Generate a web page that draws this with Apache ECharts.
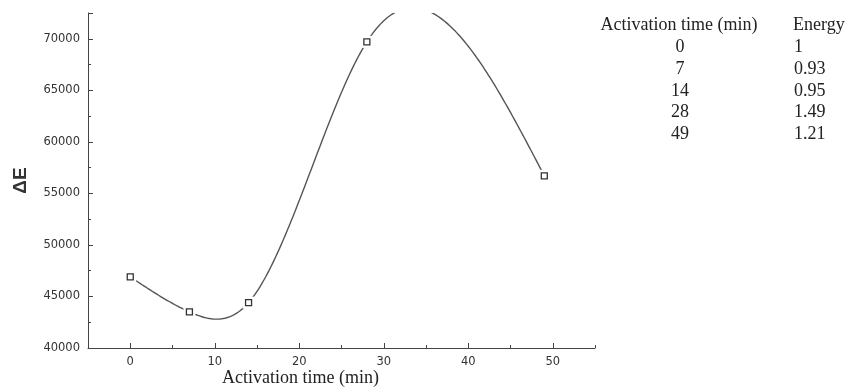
<!DOCTYPE html>
<html>
<head>
<meta charset="utf-8">
<script src="https://cdn.jsdelivr.net/npm/echarts@6/dist/echarts.min.js"></script>
<style>html,body{margin:0;padding:0;background:#fff;}#c{width:850px;height:389px;}</style>
</head>
<body>
<div id="c"></div>
<script>
// Data
var activationTime = [0, 7, 14, 28, 49];
var deltaE = [46900, 43500, 44400, 69700, 56700];
var tableHeader = ['Activation time (min)', 'Energy'];
var tableTime = ['0', '7', '14', '28', '49'];
var tableEnergy = ['1', '0.93', '0.95', '1.49', '1.21'];
var xMajorTicks = [0, 10, 20, 30, 40, 50];
var xMinorTicks = [5, 15, 25, 35, 45, 55];

// natural cubic spline through the measured points
function naturalSpline(xs, ys) {
  var n = xs.length, h = [], i;
  for (i = 0; i < n - 1; i++) h.push(xs[i + 1] - xs[i]);
  var a = [], b = [], c = [], d = [];
  for (i = 0; i < n; i++) {
    if (i === 0 || i === n - 1) { a.push(0); b.push(1); c.push(0); d.push(0); }
    else {
      a.push(h[i - 1]); b.push(2 * (h[i - 1] + h[i])); c.push(h[i]);
      d.push(6 * ((ys[i + 1] - ys[i]) / h[i] - (ys[i] - ys[i - 1]) / h[i - 1]));
    }
  }
  for (i = 1; i < n; i++) {
    var m = a[i] / b[i - 1];
    b[i] -= m * c[i - 1];
    d[i] -= m * d[i - 1];
  }
  var M = new Array(n);
  M[n - 1] = d[n - 1] / b[n - 1];
  for (i = n - 2; i >= 0; i--) M[i] = (d[i] - c[i] * M[i + 1]) / b[i];
  return function (x) {
    var k = 0;
    while (k < n - 2 && x > xs[k + 1]) k++;
    var hk = h[k], A = xs[k + 1] - x, B = x - xs[k];
    return M[k] * A * A * A / (6 * hk) + M[k + 1] * B * B * B / (6 * hk)
      + (ys[k] / hk - M[k] * hk / 6) * A + (ys[k + 1] / hk - M[k + 1] * hk / 6) * B;
  };
}
var sp = naturalSpline(activationTime, deltaE);

var chart = echarts.init(document.getElementById('c'), null, {renderer: 'canvas'});
var axisColor = '#444';
var labelStyle = {color: '#333', fontSize: 11.5, fontFamily: 'DejaVu Sans, Verdana, sans-serif'};
var serif = 'Liberation Serif, Times New Roman, serif';

var graphics = [
  {type: 'text', left: 222, top: 369, style: {text: 'Activation time (min)', font: '18px ' + serif, fill: '#222'}},
  {type: 'text', x: 679, y: 25, style: {text: tableHeader[0], font: '18px ' + serif, fill: '#222', textAlign: 'center', textVerticalAlign: 'middle'}},
  {type: 'text', x: 793, y: 25, style: {text: tableHeader[1], font: '18px ' + serif, fill: '#222', textAlign: 'left', textVerticalAlign: 'middle'}}
];
for (var r = 0; r < tableTime.length; r++) {
  var yy = 47.5 + r * 21.7;
  graphics.push({type: 'text', x: 680, y: yy, style: {text: tableTime[r], font: '18px ' + serif, fill: '#222', textAlign: 'center', textVerticalAlign: 'middle'}});
  graphics.push({type: 'text', x: 794, y: yy, style: {text: tableEnergy[r], font: '18px ' + serif, fill: '#222', textAlign: 'left', textVerticalAlign: 'middle'}});
}

chart.setOption({
  animation: false,
  backgroundColor: '#fff',
  grid: {left: 88, top: 13, width: 507, height: 335, containLabel: false},
  xAxis: [{
    type: 'value', min: -5, max: 55, interval: 5,
    axisLine: {onZero: false, lineStyle: {color: axisColor, width: 1}},
    axisTick: {inside: true, length: 5, lineStyle: {color: axisColor}, customValues: xMajorTicks},
    axisLabel: Object.assign({margin: 8, customValues: xMajorTicks}, labelStyle),
    splitLine: {show: false}
  }, {
    type: 'value', min: -5, max: 55, interval: 5, position: 'bottom',
    axisLine: {show: false, onZero: false},
    axisTick: {inside: true, length: 3, lineStyle: {color: axisColor}, customValues: xMinorTicks},
    axisLabel: {show: false},
    splitLine: {show: false}
  }],
  yAxis: {
    type: 'value', min: 40000, max: 72500, interval: 5000,
    name: 'ΔE', nameLocation: 'middle', nameGap: 58, nameRotate: 90,
    nameTextStyle: {fontSize: 19, fontWeight: 'bold', color: '#333', fontFamily: 'Liberation Sans, Arial, sans-serif'},
    axisLine: {show: true, onZero: false, lineStyle: {color: axisColor, width: 1}},
    axisTick: {inside: true, length: 5, lineStyle: {color: axisColor}},
    minorTick: {show: true, splitNumber: 2, length: 3, lineStyle: {color: axisColor}},
    axisLabel: Object.assign({margin: 8, showMaxLabel: false, formatter: function (v) { return String(v); }}, labelStyle),
    splitLine: {show: false}
  },
  graphic: graphics,
  series: [{
    type: 'custom',
    clip: true,
    data: [0],
    renderItem: function (params, api) {
      var pts = [];
      var x0 = activationTime[0], x1 = activationTime[activationTime.length - 1];
      for (var x = x0; x <= x1 + 1e-9; x += 0.2) pts.push(api.coord([x, sp(x)]));
      return {type: 'polyline', shape: {points: pts}, style: {stroke: '#555', lineWidth: 1.4, fill: null}};
    },
    z: 1
  }, {
    type: 'scatter',
    data: activationTime.map(function (t, i) { return [t, deltaE[i]]; }),
    symbol: 'rect', symbolSize: 12,
    itemStyle: {color: '#fff', borderWidth: 0, opacity: 1},
    z: 2, silent: true
  }, {
    type: 'scatter',
    data: activationTime.map(function (t, i) { return [t, deltaE[i]]; }),
    symbol: 'rect', symbolSize: 6,
    itemStyle: {color: '#fff', borderColor: '#333', borderWidth: 1.3, opacity: 1},
    z: 3, silent: true
  }]
});
</script>
</body>
</html>
